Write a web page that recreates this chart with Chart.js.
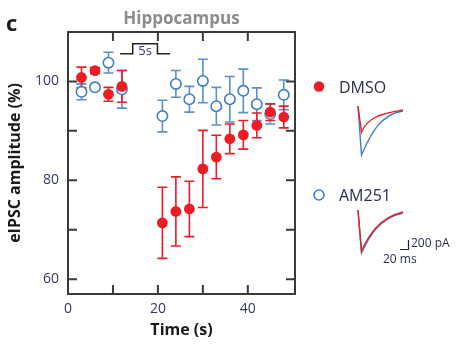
<!DOCTYPE html>
<html><head><meta charset="utf-8">
<script src="https://cdn.jsdelivr.net/npm/chart.js@4.4.0/dist/chart.umd.min.js"></script>
<style>html,body{margin:0;padding:0;background:#fff}#wrap{width:456px;height:344px}</style>
</head><body><div id="wrap"><canvas id="c" width="456" height="344"></canvas></div>
<script>
const times = [3, 6, 9, 12, 21, 24, 27, 30, 33, 36, 39, 42, 45, 48];
const dmsoValues = [100.8, 102.2, 97.4, 99.0, 71.4, 73.7, 74.2, 82.3, 84.7, 88.4, 89.2, 91.1, 93.8, 92.8];
const dmsoErrors = [2.1, 0.6, 1.4, 3.2, 7.2, 7.0, 5.6, 7.8, 4.4, 3.0, 2.9, 2.5, 1.7, 2.2];
const am251Values = [97.9, 98.8, 103.8, 98.4, 93.0, 99.5, 96.4, 100.1, 95.0, 96.4, 98.1, 95.4, 93.4, 97.3];
const am251Errors = [1.6, 0.5, 2.1, 3.8, 3.2, 2.7, 2.6, 4.4, 3.8, 4.6, 4.4, 3.3, 2.0, 3.0];
const xTickValues = [0, 10, 20, 30, 40];
const xTickLabels = ['0', '', '20', '', '40'];
const yTickValues = [60, 70, 80, 90, 100];
const yTickLabels = ['60', '', '80', '', '100'];

const RED = '#ec1c24', BLUE = '#3f7fc4', BLUE_BAR = '#5a90cc', AXIS = '#3a3a3a', TICKTXT = '#343866';
const FONT = "'Open Sans', 'DejaVu Sans', sans-serif";

const extras = {
  id: 'extras',
  beforeDatasetsDraw(chart) {
    const {ctx, scales: {x, y}} = chart;
    const bars = (vals, errs, color) => {
      ctx.save(); ctx.strokeStyle = color; ctx.lineWidth = 1.6;
      times.forEach((t, i) => {
        const px = x.getPixelForValue(t);
        const top = y.getPixelForValue(vals[i] + errs[i]);
        const bot = y.getPixelForValue(vals[i] - errs[i]);
        ctx.beginPath();
        ctx.moveTo(px, top); ctx.lineTo(px, bot);
        ctx.moveTo(px - 5, top); ctx.lineTo(px + 5, top);
        ctx.moveTo(px - 5, bot); ctx.lineTo(px + 5, bot);
        ctx.stroke();
      });
      ctx.restore();
    };
    bars(am251Values, am251Errors, BLUE_BAR);
    bars(dmsoValues, dmsoErrors, RED);
  },
  afterDraw(chart) {
    const {ctx, chartArea: a, scales: {x, y}} = chart;
    ctx.save();
    // frame
    ctx.strokeStyle = AXIS; ctx.lineWidth = 2;
    ctx.strokeRect(a.left, a.top, a.right - a.left, a.bottom - a.top);
    // inward ticks
    ctx.beginPath();
    xTickValues.forEach(v => {
      if (v === 0) return;
      const px = x.getPixelForValue(v);
      ctx.moveTo(px, a.bottom); ctx.lineTo(px, a.bottom - 9);
      ctx.moveTo(px, a.top); ctx.lineTo(px, a.top + 9);
    });
    yTickValues.forEach(v => {
      const py = y.getPixelForValue(v);
      ctx.moveTo(a.left, py); ctx.lineTo(a.left + 9, py);
      ctx.moveTo(a.right, py); ctx.lineTo(a.right - 9, py);
    });
    ctx.stroke();
    // 5 s stimulus bracket (data coordinates)
    const bx0 = x.getPixelForValue(11.6), bx1 = x.getPixelForValue(14.4),
          bx2 = x.getPixelForValue(19.9), bx3 = x.getPixelForValue(22.7);
    const by0 = y.getPixelForValue(105.6), by1 = y.getPixelForValue(107.6);
    ctx.lineWidth = 1.5; ctx.strokeStyle = '#222';
    ctx.beginPath();
    ctx.moveTo(bx0, by0); ctx.lineTo(bx1, by0); ctx.lineTo(bx1, by1); ctx.lineTo(bx2, by1);
    ctx.lineTo(bx2, by0); ctx.lineTo(bx3, by0);
    ctx.stroke();
    ctx.fillStyle = TICKTXT; ctx.font = "13px " + FONT; ctx.textAlign = 'center'; ctx.textBaseline = 'middle';
    ctx.fillText('5s', (bx1 + bx2) / 2, by0 - 2);
    // panel letter and title
    ctx.fillStyle = '#1a1a1a'; ctx.font = "bold 22px " + FONT; ctx.textAlign = 'left'; ctx.textBaseline = 'alphabetic';
    ctx.fillText('c', 6, 31);
    ctx.fillStyle = '#8c8c8c'; ctx.font = "bold 17px " + FONT; ctx.textAlign = 'center';
    ctx.fillText('Hippocampus', (a.left + a.right) / 2, 24);
    // axis titles
    ctx.fillStyle = '#1a1a1a'; ctx.font = "bold 16px " + FONT; ctx.textBaseline = 'middle'; ctx.textAlign = 'center';
    ctx.fillText('Time (s)', (a.left + a.right) / 2, 330);
    ctx.save(); ctx.translate(15, (a.top + a.bottom) / 2); ctx.rotate(-Math.PI / 2);
    ctx.fillText('eIPSC amplitude (%)', 0, 0); ctx.restore();
    // legend
    ctx.fillStyle = RED; ctx.beginPath(); ctx.arc(319, 86.5, 5.3, 0, Math.PI * 2); ctx.fill();
    ctx.strokeStyle = BLUE; ctx.lineWidth = 1.6; ctx.fillStyle = '#fff';
    ctx.beginPath(); ctx.arc(319, 195, 5, 0, Math.PI * 2); ctx.fill(); ctx.stroke();
    ctx.fillStyle = '#2a2d50'; ctx.font = "16px " + FONT; ctx.textAlign = 'left'; ctx.textBaseline = 'middle';
    ctx.fillText('DMSO', 339, 88);
    ctx.fillText('AM251', 339, 196);
    // example traces
    const trace = (x0, y0, depth, color, xEnd, yEnd) => {
      ctx.strokeStyle = color; ctx.lineWidth = 1.4; ctx.beginPath();
      ctx.moveTo(x0, y0); ctx.lineTo(x0 + 3.5, y0 + depth);
      ctx.bezierCurveTo(x0 + 10, y0 + depth - 14, x0 + 20, y0 + 8, xEnd, yEnd);
      ctx.stroke();
    };
    trace(358, 106, 49, BLUE, 403, 111);
    trace(358, 106, 26, RED, 403, 110);
    trace(358, 210, 43, BLUE, 403, 213);
    trace(358, 210, 41, RED, 403, 212);
    ctx.strokeStyle = '#222'; ctx.lineWidth = 1.2; ctx.beginPath();
    ctx.moveTo(408.5, 240); ctx.lineTo(408.5, 249.5); ctx.lineTo(400, 249.5); ctx.stroke();
    ctx.fillStyle = '#2a2d50'; ctx.font = "12px " + FONT; ctx.textBaseline = 'middle'; ctx.textAlign = 'left';
    ctx.fillText('200 pA', 411, 244);
    ctx.fillText('20 ms', 383, 260);
    ctx.restore();
  }
};

new Chart(document.getElementById('c'), {
  type: 'scatter',
  data: {
    datasets: [
      { label: 'DMSO', data: times.map((t, i) => ({x: t, y: dmsoValues[i]})),
        backgroundColor: RED, borderColor: RED, pointRadius: 5.4, pointBorderWidth: 0, pointHoverRadius: 5.4 },
      { label: 'AM251', data: times.map((t, i) => ({x: t, y: am251Values[i]})),
        backgroundColor: '#fff', borderColor: BLUE, pointRadius: 5.2, pointBorderWidth: 1.6, pointHoverRadius: 5.2 }
    ]
  },
  options: {
    responsive: false, animation: false, maintainAspectRatio: false,
    layout: { padding: { left: 0, right: 161, top: 32, bottom: 0 } },
    plugins: { legend: { display: false }, tooltip: { enabled: false }, title: { display: false } },
    scales: {
      x: {
        type: 'linear', min: 0, max: 50.5,
        afterBuildTicks: s => { s.ticks = xTickValues.map(v => ({value: v})); },
        afterFit: s => { s.height = 50; },
        grid: { display: false, drawTicks: false }, border: { display: false },
        ticks: { padding: 7, color: TICKTXT, font: { family: FONT, size: 14 }, maxRotation: 0,
          callback: (v) => xTickLabels[xTickValues.indexOf(v)] ?? '' }
      },
      y: {
        type: 'linear', min: 57, max: 110,
        afterBuildTicks: s => { s.ticks = yTickValues.map(v => ({value: v})); },
        afterFit: s => { s.width = 68; },
        grid: { display: false, drawTicks: false }, border: { display: false },
        ticks: { padding: 9, color: TICKTXT, font: { family: FONT, size: 14 },
          callback: (v) => yTickLabels[yTickValues.indexOf(v)] ?? '' }
      }
    }
  },
  plugins: [extras]
});
</script>
</body></html>
